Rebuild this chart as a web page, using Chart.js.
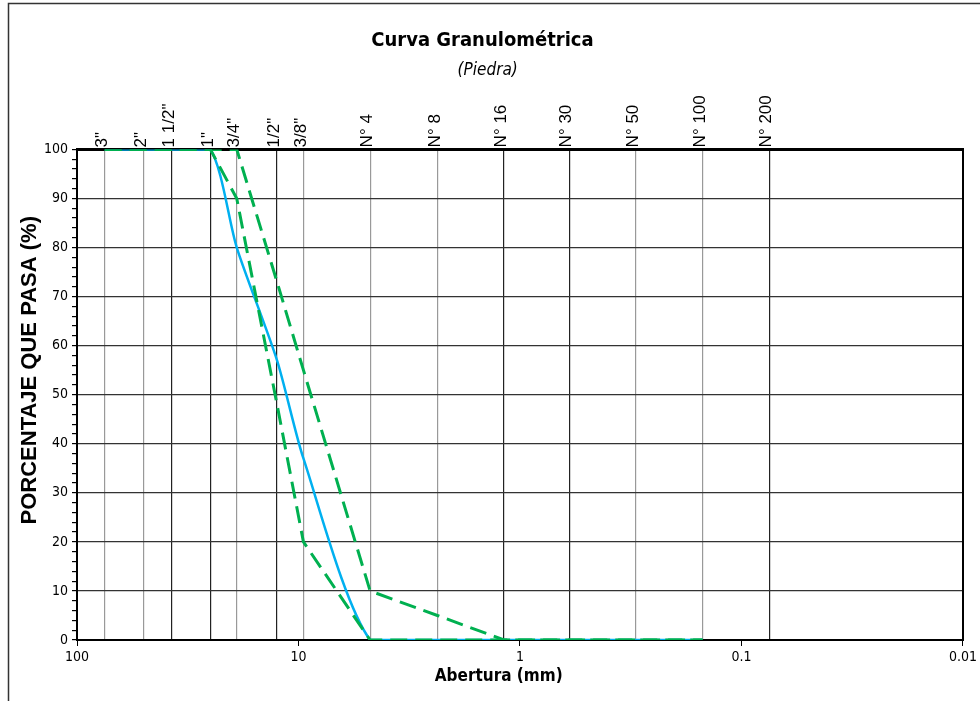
<!DOCTYPE html>
<html>
<head>
<meta charset="utf-8">
<script src="https://cdn.jsdelivr.net/npm/chart.js@4.4.1/dist/chart.umd.min.js"></script>
<style>
  body { margin: 0; background: #fff; }
  #graf { display: block; }
</style>
</head>
<body>
<canvas id="graf" width="980" height="701"></canvas>
<script>
// tamices y aberturas (mm)
const tamices = ['3"', '2"', '1 1/2"', '1"', '3/4"', '1/2"', '3/8"', 'N° 4', 'N° 8', 'N° 16', 'N° 30', 'N° 50', 'N° 100', 'N° 200'];
const aberturas = [75, 50, 37.5, 25, 19, 12.5, 9.5, 4.75, 2.36, 1.18, 0.6, 0.3, 0.15, 0.075];

// % que pasa
const muestra = [100, 100, 100, 100, 80, 57, 37, 0, 0, 0, 0, 0, 0, null];
const limSup  = [100, 100, 100, 100, 100, 73, 55, 10, 5, 0, 0, 0, 0, null];
const limInf  = [100, 100, 100, 100, 90, 48, 20, 0, 0, 0, 0, 0, 0, null];

// etiquetas eje inferior
const ejeX = [100, 10, 1, 0.1, 0.01];

const narrow = "'Liberation Sans Narrow', 'Arial Narrow', 'DejaVu Sans Condensed', sans-serif";
const normal = "'Liberation Sans', Arial, sans-serif";
const verde = '#00B050';
const azul = '#00B0F0';
const lineasOscuras = ['1 1/2"', '1"', '1/2"', 'N° 16', 'N° 30', 'N° 200']; // lineas verticales mas oscuras

function puntos(arr) {
  return aberturas.map((a, i) => ({ x: a, y: arr[i] }));
}

// marco exterior (linea arriba e izquierda)
const marco = {
  id: 'marco',
  beforeDraw(chart) {
    const ctx = chart.ctx;
    ctx.save();
    ctx.strokeStyle = '#333';
    ctx.lineWidth = 1.5;
    ctx.beginPath();
    ctx.moveTo(8.5, 701);
    ctx.lineTo(8.5, 3.5);
    ctx.lineTo(980, 3.5);
    ctx.stroke();
    ctx.restore();
  }
};

Chart.defaults.color = '#000';

// los espacios extra corren un poco los titulos, como en el original
let chart = new Chart(document.getElementById('graf').getContext('2d'), {
  type: 'line',
  data: {
    datasets: [
      { label: 'Lim. sup', data: puntos(limSup), borderColor: verde, borderWidth: 3, borderDash: [17, 8], pointRadius: 0, xAxisID: 'x', yAxisID: 'y' },
      { label: 'Lim. inf', data: puntos(limInf), borderColor: verde, borderWidth: 3, borderDash: [17, 8], pointRadius: 0, xAxisID: 'x', yAxisID: 'y' },
      { label: 'Muestra', data: puntos(muestra), borderColor: azul, borderWidth: 2.5, pointRadius: 0, tension: 0.25, xAxisID: 'x', yAxisID: 'y' }
    ]
  },
  options: {
    responsive: false,
    animation: false,
    devicePixelRatio: 1,
    layout: { padding: { left: 10, right: 0, top: 0, bottom: 0 } },
    plugins: {
      legend: { display: false },
      tooltip: { enabled: false },
      title: {
        display: true,
        text: 'Curva Granulométrica' + '    ',
        font: { family: narrow, size: 20, weight: 'bold' },
        color: '#000',
        padding: { top: 29, bottom: 3 }
      },
      subtitle: {
        display: true,
        text: '(Piedra)' + '   ',
        font: { family: narrow, size: 17, style: 'italic' },
        color: '#000',
        padding: { top: 4, bottom: 0 }
      }
    },
    scales: {
      x: {
        type: 'logarithmic',
        position: 'bottom',
        reverse: true,
        min: 0.01,
        max: 100,
        afterBuildTicks: s => { s.ticks = ejeX.map(v => ({ value: v })); },
        ticks: { callback: v => String(v), font: { family: narrow, size: 14 }, color: '#000', padding: 3, maxRotation: 0, autoSkip: false },
        grid: { drawOnChartArea: false, tickLength: 6, color: '#000' },
        border: { color: '#000', width: 2 },
        title: { display: true, text: 'Abertura (mm)' + '        ', font: { family: narrow, size: 17, weight: 'bold' }, color: '#000', padding: { top: 0, bottom: 14 } },
        afterFit: s => { s.height = 61; }
      },
      xTop: {
        type: 'logarithmic',
        position: 'top',
        reverse: true,
        min: 0.01,
        max: 100,
        afterBuildTicks: s => { s.ticks = aberturas.map(v => ({ value: v })); },
        ticks: { callback: (v, i) => tamices[i], font: { family: normal, size: 17 }, color: '#000', minRotation: 90, maxRotation: 90, autoSkip: false, padding: 2, labelOffset: 18 },
        grid: {
          color: ctx => (ctx.tick && lineasOscuras.includes(tamices[ctx.index])) ? '#222' : '#999',
          lineWidth: 1.2,
          drawTicks: false
        },
        border: { color: '#000', width: 3 },
        afterFit: s => { s.height = 69; }
      },
      y: {
        min: 0,
        max: 100,
        afterBuildTicks: s => { let t = []; for (let v = 0; v <= 100; v += 2) t.push({ value: v }); s.ticks = t; },
        ticks: { callback: v => (v % 10 === 0 ? v : ''), font: { family: narrow, size: 14 }, color: '#000', autoSkip: false, padding: 4 },
        grid: {
          color: ctx => (ctx.tick && ctx.tick.value % 10 === 0) ? '#333' : 'rgba(0,0,0,0)',
          tickColor: '#000',
          tickLength: 5,
          lineWidth: 1.2
        },
        border: { color: '#000', width: 2 },
        title: { display: true, text: '        ' + 'PORCENTAJE QUE PASA (%)', font: { family: normal, size: 22, weight: 'bold' }, color: '#000', padding: { top: 7, bottom: 0 } },
        afterFit: s => { s.width = 67; }
      },
      yR: {
        position: 'right',
        min: 0,
        max: 100,
        ticks: { display: false },
        grid: { drawOnChartArea: false, drawTicks: false },
        border: { color: '#000', width: 2 },
        afterFit: s => { s.width = 11; }
      }
    }
  },
  plugins: [marco]
});
</script>
</body>
</html>
